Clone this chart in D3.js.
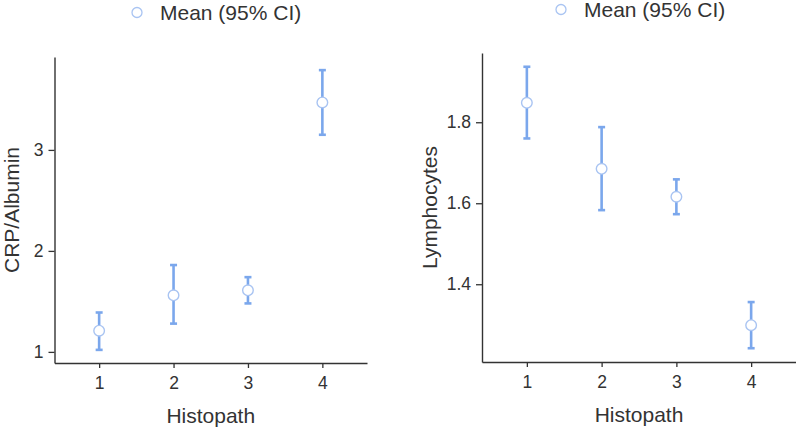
<!DOCTYPE html>
<html>
<head>
<meta charset="utf-8">
<script src="https://cdn.jsdelivr.net/npm/d3@7"></script>
<style>
  body { margin: 0; background: #fff; }
  text { font-family: "Liberation Sans", Arial, sans-serif; fill: #333; }
</style>
</head>
<body>
<svg id="chart" width="796" height="429"></svg>
<script>
const groups = [1, 2, 3, 4]
const crpMean = [1.21, 1.56, 1.61, 3.47]
const crpLow = [1.02, 1.28, 1.48, 3.15]
const crpHigh = [1.39, 1.86, 1.74, 3.79]
const crpTicks = [1, 2, 3]
const lymMean = [1.848, 1.685, 1.616, 1.299]
const lymLow = [1.760, 1.583, 1.573, 1.242]
const lymHigh = [1.937, 1.788, 1.659, 1.356]
const lymTicks = [1.4, 1.6, 1.8]

const barColor = "#7ba7ec"
const dotColor = "#a9c4f2"
const svg = d3.select("#chart")

function panel(opt) {
  const x = d3.scaleLinear().domain([0.4, 4.6]).range([opt.left, opt.right])
  const y = d3.scaleLinear().domain(opt.yDomain).range([opt.bottom, opt.top])
  const g = svg.append("g")

  // legend
  g.append("circle")
    .attr("cx", opt.legX).attr("cy", opt.legY)
    .attr("r", 5).attr("fill", "#fff")
    .attr("stroke", dotColor).attr("stroke-width", 1.3)
  g.append("text")
    .attr("x", opt.legX + 23).attr("y", opt.legY + 7.5)
    .attr("font-size", 21)
    .text("Mean (95% CI)")

  const xAxis = g.append("g")
    .attr("transform", `translate(0,${opt.bottom})`)
    .call(d3.axisBottom(x).tickValues(groups).tickSize(5).tickSizeOuter(0).tickPadding(9)
      .tickFormat(d3.format("d")))
  const yAxis = g.append("g")
    .attr("transform", `translate(${opt.left},0)`)
    .call(d3.axisLeft(y).tickValues(opt.ticks).tickSize(6).tickSizeOuter(0).tickPadding(5)
      .tickFormat(opt.fmt))
  for (const ax of [xAxis, yAxis]) {
    ax.selectAll("text").attr("font-size", 17.5).attr("fill", "#333")
    ax.selectAll("line").attr("stroke", "#333").attr("stroke-width", 1.3)
    ax.select(".domain").attr("stroke", "#333").attr("stroke-width", 1.4)
  }

  g.append("text")
    .attr("x", (opt.left + opt.right) / 2).attr("y", opt.bottom + 60)
    .attr("text-anchor", "middle").attr("font-size", 21)
    .text("Histopath")
  g.append("text")
    .attr("transform", `translate(${opt.titleX},${(opt.top + opt.bottom) / 2}) rotate(-90)`)
    .attr("text-anchor", "middle").attr("font-size", 21)
    .text(opt.title)

  const pts = groups.map((k, i) => ({k, m: opt.mean[i], lo: opt.low[i], hi: opt.high[i]}))
  const bars = g.append("g").selectAll("g").data(pts).join("g")
    .attr("stroke", barColor).attr("stroke-width", 2.6)
  bars.append("line")
    .attr("x1", d => x(d.k)).attr("x2", d => x(d.k))
    .attr("y1", d => y(d.lo)).attr("y2", d => y(d.hi))
  bars.append("line")
    .attr("x1", d => x(d.k) - 3.5).attr("x2", d => x(d.k) + 3.5)
    .attr("y1", d => y(d.lo)).attr("y2", d => y(d.lo))
  bars.append("line")
    .attr("x1", d => x(d.k) - 3.5).attr("x2", d => x(d.k) + 3.5)
    .attr("y1", d => y(d.hi)).attr("y2", d => y(d.hi))
  g.append("g").selectAll("circle").data(pts).join("circle")
    .attr("cx", d => x(d.k)).attr("cy", d => y(d.m))
    .attr("r", 5.3).attr("fill", "#fff")
    .attr("stroke", dotColor).attr("stroke-width", 1.4)
}

panel({
  left: 54.5, right: 367, top: 57, bottom: 363,
  yDomain: [0.89, 3.92], ticks: crpTicks, fmt: d3.format("d"),
  mean: crpMean, low: crpLow, high: crpHigh,
  title: "CRP/Albumin", titleX: 19, legX: 137, legY: 12.5
})
panel({
  left: 482, right: 796, top: 53, bottom: 362,
  yDomain: [1.208, 1.971], ticks: lymTicks, fmt: d3.format(".1f"),
  mean: lymMean, low: lymLow, high: lymHigh,
  title: "Lymphocytes", titleX: 437, legX: 561, legY: 9.5
})
</script>
</body>
</html>
